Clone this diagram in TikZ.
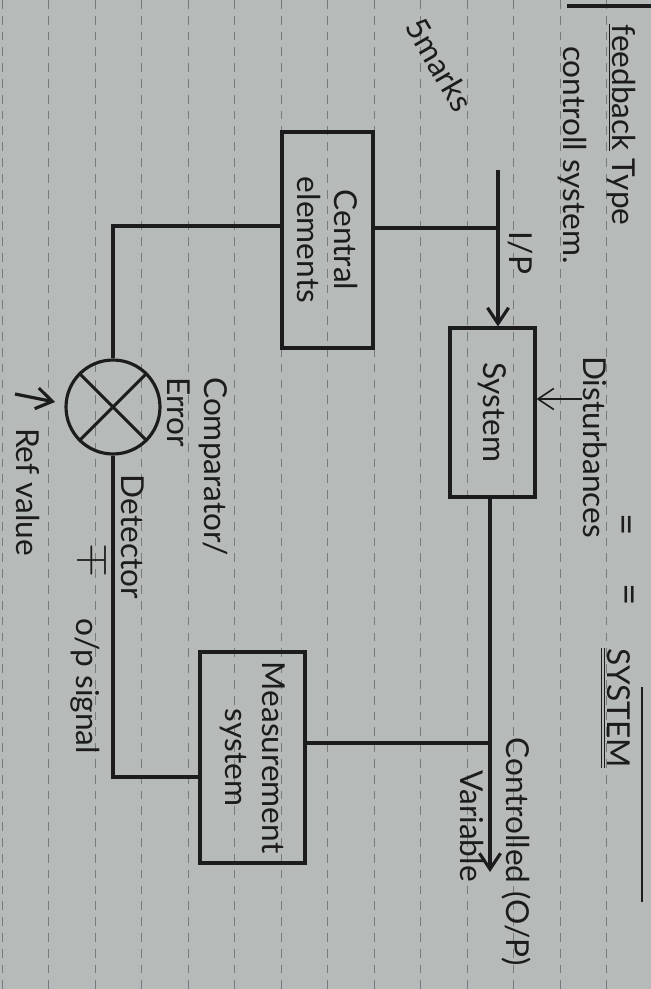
\documentclass[tikz,border=0pt]{standalone}
\usepackage{fontspec}
\setmainfont{Lato}
\usetikzlibrary{arrows.meta}
\definecolor{paper}{RGB}{182,186,184}
\definecolor{ink}{RGB}{28,28,30}
\definecolor{ruling}{RGB}{118,124,124}
\begin{document}
\begin{tikzpicture}[x=0.02cm,y=-0.02cm,
  every node/.style={text=ink, font=\fontsize{18}{21}\selectfont},
  box/.style={draw=ink, line width=1.8pt, rotate=-90, align=center, inner sep=0pt},
  lbl/.style={rotate=-90},
  wire/.style={draw=ink, line width=1.8pt},
  thinwire/.style={draw=ink, line width=0.9pt},
  arr/.style={-{Straight Barb[length=9pt,width=12pt]}},
  ]
\fill[paper] (0,0) rectangle (651,989);
\useasboundingbox (0,0) rectangle (651,989);
\foreach \k in {0,...,13}
  \draw[ruling, dash pattern=on 5pt off 4pt, line width=0.5pt] ({2+46.5*\k},0) -- ({2+46.5*\k},989);

% blocks
\node[box, minimum width=4.32cm, minimum height=1.82cm] (ce) at (327.5,240) {Central\\elements};
\node[box, minimum width=3.38cm, minimum height=1.70cm] (sys) at (492.5,412.5) {System};
\node[box, minimum width=4.22cm, minimum height=2.10cm] (meas) at (252.5,757.5) {Measurement\\system};
\node[draw=ink, line width=1.8pt, circle, minimum size=1.88cm, inner sep=0pt] (cmp) at (113,407) {};
\draw[wire] (cmp.135) -- (cmp.-45);
\draw[wire] (cmp.45) -- (cmp.-135);

% junction points
\coordinate (ipTop) at (498,170);
\coordinate (ipJ) at (498,228);
\coordinate (lc) at (113,226);
\coordinate (lb) at (113,777);
\coordinate (out) at (490,872);
\coordinate (mj) at (490,743);
\coordinate (dist) at (582,399);
\coordinate (rvA) at (15,394);
\coordinate (rvB) at (55,402);

% connectors
\draw[wire, arr] (ipTop) -- (sys.west -| ipTop);
\draw[wire] (ce.north |- ipJ) -- (ipJ);
\draw[wire] (ce.south |- lc) -- (lc) -- (cmp.north);
\draw[wire] (cmp.south) -- (lb) -- (lb -| meas.south);
\draw[wire, arr] (sys.east -| out) -- (out);
\draw[wire] (meas.north |- mj) -- (mj);
\draw[thinwire, arr] (dist) -- (dist -| sys.north);
\draw[wire, arr] (rvA) -- (rvB);

% labels
\node[lbl] (fb) at (621,125) {\underline{feedback} Type};
\node[lbl] (cs) at (572,155) {controll system.};
\node[rotate=-60, inner sep=1pt] (mk) at (440,65) {5marks};
\node[lbl] (ip) at (520,253) {I/P};
\node[lbl] (dt) at (595,447) {Disturbances};
\node[lbl, align=left, anchor=north west] (cmpl) at (234,371) {Comparator/\\Error};
\node[lbl] (det) at (133,537) {Detector};
\node[lbl, font=\fontsize{26}{28}\selectfont] (pm) at (95,560) {$\mp$};
\node[lbl] (ops) at (85,686) {o/p signal};
\node[lbl] (ref) at (28,492) {Ref value};
\node[lbl] (cv) at (516,852) {Controlled (O/P)};
\node[lbl] (var) at (472,826) {Variable};
\node[lbl] (ttl) at (615,708) {\underline{\underline{SYSTEM}}};
\node[lbl, inner sep=0pt, font=\fontsize{22}{24}\selectfont] (eq1) at (622,525) {=};
\node[lbl, inner sep=0pt, font=\fontsize{22}{24}\selectfont] (eq2) at (625,595) {=};
\draw[ink, line width=1.2pt] (642,687) -- (642,902);
\draw[ink, line width=1.8pt] (567,6) -- (651,6);
\end{tikzpicture}
\end{document}
